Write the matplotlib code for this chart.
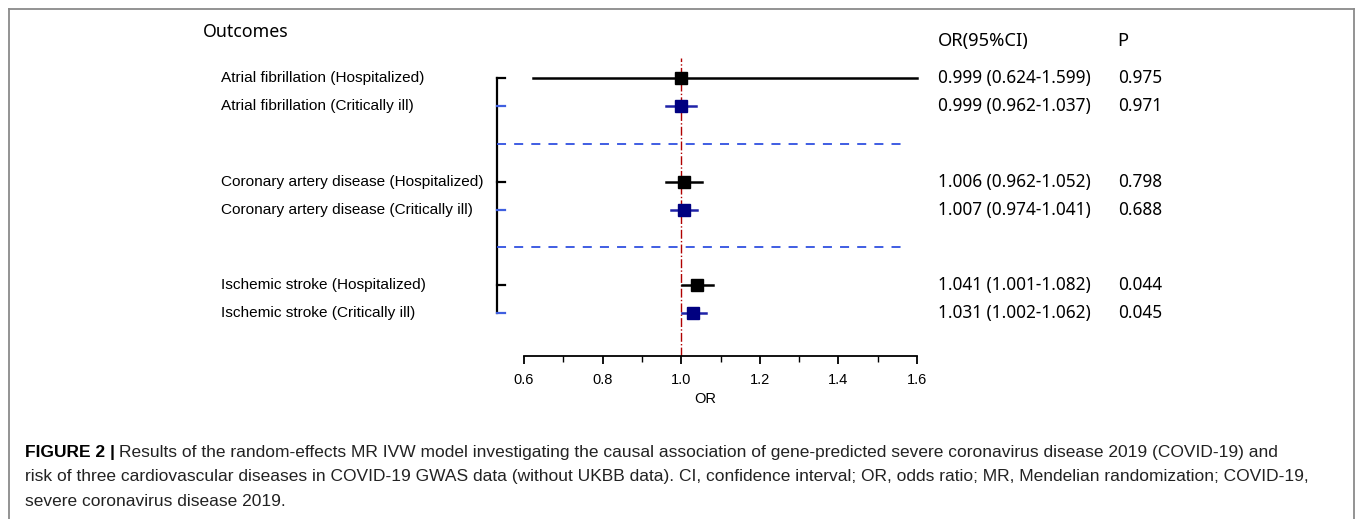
import matplotlib.pyplot as plt
import matplotlib.transforms as mtransforms
from matplotlib.lines import Line2D

# data
outcomes = ["Atrial fibrillation (Hospitalized)", "Atrial fibrillation (Critically ill)",
            "Coronary artery disease (Hospitalized)", "Coronary artery disease (Critically ill)",
            "Ischemic stroke (Hospitalized)", "Ischemic stroke (Critically ill)"]
or_vals = [0.999, 0.999, 1.006, 1.007, 1.041, 1.031]
ci_low = [0.624, 0.962, 0.962, 0.974, 1.001, 1.002]
ci_high = [1.599, 1.037, 1.052, 1.041, 1.082, 1.062]
p_vals = [0.975, 0.971, 0.798, 0.688, 0.044, 0.045]
xticks = [0.6, 0.8, 1.0, 1.2, 1.4, 1.6]

W, H = 1357, 519
fig = plt.figure(figsize=(W / 100, H / 100), dpi=100)

# axes placed in pixel terms: OR 0.6 -> px 524, 1.6 -> px 917
px_per = (917 - 524) / 1.0
ax_l, ax_r = 488, 922
ax_t, ax_b = 58, 356
ax = fig.add_axes([ax_l / W, 1 - ax_b / H, (ax_r - ax_l) / W, (ax_b - ax_t) / H])
ax.set_xlim(0.6 - (524 - ax_l) / px_per, 1.6 + (ax_r - 917) / px_per)

# row positions (3 groups, 2 rows each)
ypos = []
for g in range(3):
    ypos += [g * 3.7, g * 3.7 + 1]
row_px = 28.0
ax.set_ylim(0 + (ax_b - 78) / row_px, 0 - (78 - ax_t) / row_px)

black = "black"
blue_line = "#1f22a8"
blue_mark = "#000080"
blue_tick = "#3f5fe0"

for i in range(6):
    if i % 2 == 0:
        lc, mc = black, black
    else:
        lc, mc = blue_line, blue_mark
    ax.plot([ci_low[i], ci_high[i]], [ypos[i], ypos[i]], color=lc, lw=1.8, zorder=3)
    ax.plot(or_vals[i], ypos[i], marker="s", ms=8.5, color=mc, zorder=4)

# bracket on the left
bx = 0.6 - (524 - 497) / px_per
tick_len = 8 / px_per
ax.plot([bx, bx], [ypos[0], ypos[-1]], color=black, lw=1.6)
for i in range(6):
    ax.plot([bx, bx + tick_len], [ypos[i], ypos[i]],
            color=black if i % 2 == 0 else blue_tick, lw=1.6)

# dashed separators
for g in range(2):
    yd = (ypos[2 * g + 1] + ypos[2 * g + 2]) / 2
    ax.plot([bx, 0.6 + (907 - 524) / px_per], [yd, yd], color="#3050e0",
            lw=1.3, dashes=(5, 4.5))

# null line
ax.axvline(1.0, color="#b00000", lw=1.0, ls="-.", zorder=2)

# axis styling
for s in ["top", "right", "left"]:
    ax.spines[s].set_visible(False)
ax.spines["bottom"].set_bounds(0.6, 1.6)
ax.spines["bottom"].set_linewidth(1.3)
ax.set_yticks([])
ax.set_xticks(xticks)
ax.set_xticks([0.7, 0.9, 1.1, 1.3, 1.5], minor=True)
ax.set_xticklabels(["%.1f" % t for t in xticks], fontfamily="Liberation Sans", fontsize=10.5)
ax.tick_params(axis="x", which="major", length=6, width=1.3, pad=6)
ax.tick_params(axis="x", which="minor", length=4, width=1.0)
ax.set_xlabel("OR", fontfamily="Liberation Sans", fontsize=10.5, labelpad=4)

# text columns
trans = mtransforms.blended_transform_factory(fig.transFigure, ax.transData)
for i in range(6):
    ax.text(221 / W, ypos[i], outcomes[i], transform=trans, ha="left", va="center",
            fontfamily="Liberation Sans", fontsize=11.1)
    ax.text(938 / W, ypos[i], "%.3f (%.3f-%.3f)" % (or_vals[i], ci_low[i], ci_high[i]),
            transform=trans, ha="left", va="center", fontfamily="Noto Sans", fontsize=12.4)
    ax.text(1118 / W, ypos[i], "%.3f" % p_vals[i], transform=trans, ha="left",
            va="center", fontfamily="Noto Sans", fontsize=12.4)

fig.text(203 / W, 1 - 32 / H, "Outcomes", ha="left", va="center",
         fontfamily="Noto Sans", fontsize=12.8)
fig.text(938 / W, 1 - 41 / H, "OR(95%CI)", ha="left", va="center",
         fontfamily="Noto Sans", fontsize=13.2)
fig.text(1117 / W, 1 - 41 / H, "P", ha="left", va="center",
         fontfamily="Noto Sans", fontsize=13.2)

# frame around the figure
fc = "#8a8a8a"
fig.add_artist(Line2D([9 / W, 9 / W], [0, 1 - 9 / H], transform=fig.transFigure, color=fc, lw=1.3))
fig.add_artist(Line2D([9 / W, 1354 / W], [1 - 9 / H, 1 - 9 / H], transform=fig.transFigure, color=fc, lw=1.3))
fig.add_artist(Line2D([1354 / W, 1354 / W], [0, 1 - 9 / H], transform=fig.transFigure, color=fc, lw=1.3))

# caption
cap_size = 12.5
bold = fig.text(25 / W, 1 - 453 / H, "FIGURE 2 |", ha="left", va="center",
                fontfamily="Liberation Sans", fontweight="bold", fontsize=cap_size)
fig.canvas.draw()
bb = bold.get_window_extent()
fig.text((bb.x1 + 4) / W, 1 - 453 / H,
         "Results of the random-effects MR IVW model investigating the causal association of "
         "gene-predicted severe coronavirus disease 2019 (COVID-19) and",
         ha="left", va="center", fontfamily="Liberation Sans", fontsize=cap_size, color="#222222")
fig.text(25 / W, 1 - 477 / H,
         "risk of three cardiovascular diseases in COVID-19 GWAS data (without UKBB data). CI, "
         "confidence interval; OR, odds ratio; MR, Mendelian randomization; COVID-19,",
         ha="left", va="center", fontfamily="Liberation Sans", fontsize=cap_size, color="#222222")
fig.text(25 / W, 1 - 501 / H, "severe coronavirus disease 2019.",
         ha="left", va="center", fontfamily="Liberation Sans", fontsize=cap_size, color="#222222")

fig.savefig("out.png", dpi=100)
